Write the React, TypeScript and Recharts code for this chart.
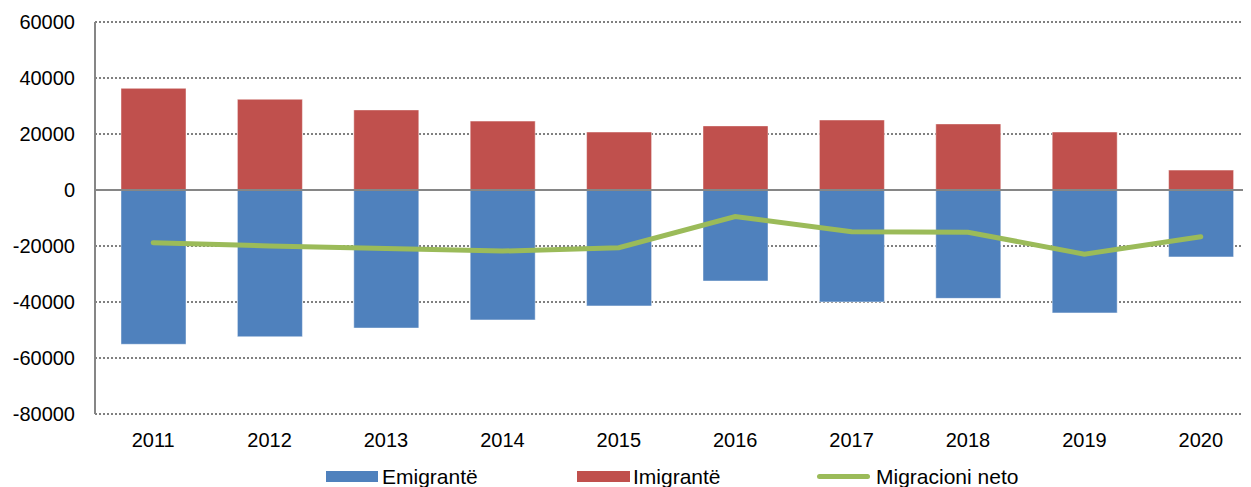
import {
  Bar,
  CartesianGrid,
  ComposedChart,
  Line,
  ReferenceLine,
  XAxis,
  YAxis,
} from "recharts";

const years = ["2011", "2012", "2013", "2014", "2015", "2016", "2017", "2018", "2019", "2020"];
const emigrante = [-55100, -52400, -49300, -46400, -41400, -32500, -40000, -38700, -43900, -23900];
const imigrante = [36300, 32400, 28600, 24600, 20700, 22900, 25000, 23600, 20700, 7100];
const neto = [-18800, -20000, -20900, -21800, -20600, -9500, -14900, -15100, -22900, -16700];
const yTicks = [-80000, -60000, -40000, -20000, 0, 20000, 40000, 60000];

const data = years.map((year, i) => ({
  year,
  emigrante: emigrante[i],
  imigrante: imigrante[i],
  neto: neto[i],
}));

const font = '"Liberation Sans", Arial, sans-serif';

export default function App() {
  return (
    <div
      style={{
        margin: "-8px -8px 0 -8px",
        width: 1251,
        height: 487,
        overflow: "hidden",
        position: "relative",
        background: "#fff",
        fontFamily: font,
      }}
    >
      <ComposedChart
        width={1270}
        height={460}
        data={data}
        stackOffset="sign"
        margin={{ top: 22, right: 11, left: 0, bottom: 0 }}
      >
        <CartesianGrid vertical={false} stroke="#000" strokeDasharray="2 2" />
        <XAxis
          dataKey="year"
          height={46}
          axisLine={false}
          tickLine={false}
          tickSize={0}
          tickMargin={19}
          tick={{ fill: "#000", fontSize: 20, fontFamily: font }}
        />
        <YAxis
          domain={[-80000, 60000]}
          ticks={yTicks}
          interval={0}
          width={95}
          axisLine={{ stroke: "#868686", strokeWidth: 2 }}
          tickLine={false}
          tickSize={0}
          tickMargin={20}
          tick={{ fill: "#000", fontSize: 20, fontFamily: font }}
        />
        <Bar
          dataKey="emigrante"
          stackId="a"
          barSize={65}
          fill="#4F81BD"
          stroke="rgba(255,255,255,0.45)"
          isAnimationActive={false}
        />
        <Bar
          dataKey="imigrante"
          stackId="a"
          barSize={65}
          fill="#C0504D"
          stroke="rgba(255,255,255,0.45)"
          isAnimationActive={false}
        />
        <ReferenceLine y={0} stroke="#868686" strokeWidth={2} />
        <Line
          dataKey="neto"
          type="linear"
          stroke="#9BBB59"
          strokeWidth={5}
          strokeLinecap="round"
          dot={false}
          activeDot={false}
          isAnimationActive={false}
        />
      </ComposedChart>
      {/* legend */}
      <div style={{ position: "absolute", left: 326, top: 471, width: 52, height: 11, background: "#4F81BD" }} />
      <div style={{ position: "absolute", left: 382, top: 465, fontSize: 21, lineHeight: "24px" }}>Emigrantë</div>
      <div style={{ position: "absolute", left: 577, top: 471, width: 53, height: 11, background: "#C0504D" }} />
      <div style={{ position: "absolute", left: 633, top: 465, fontSize: 21, lineHeight: "24px" }}>Imigrantë</div>
      <div
        style={{
          position: "absolute",
          left: 817,
          top: 474,
          width: 53,
          height: 5,
          borderRadius: 3,
          background: "#9BBB59",
        }}
      />
      <div style={{ position: "absolute", left: 876, top: 465, fontSize: 21, lineHeight: "24px" }}>Migracioni neto</div>
    </div>
  );
}
